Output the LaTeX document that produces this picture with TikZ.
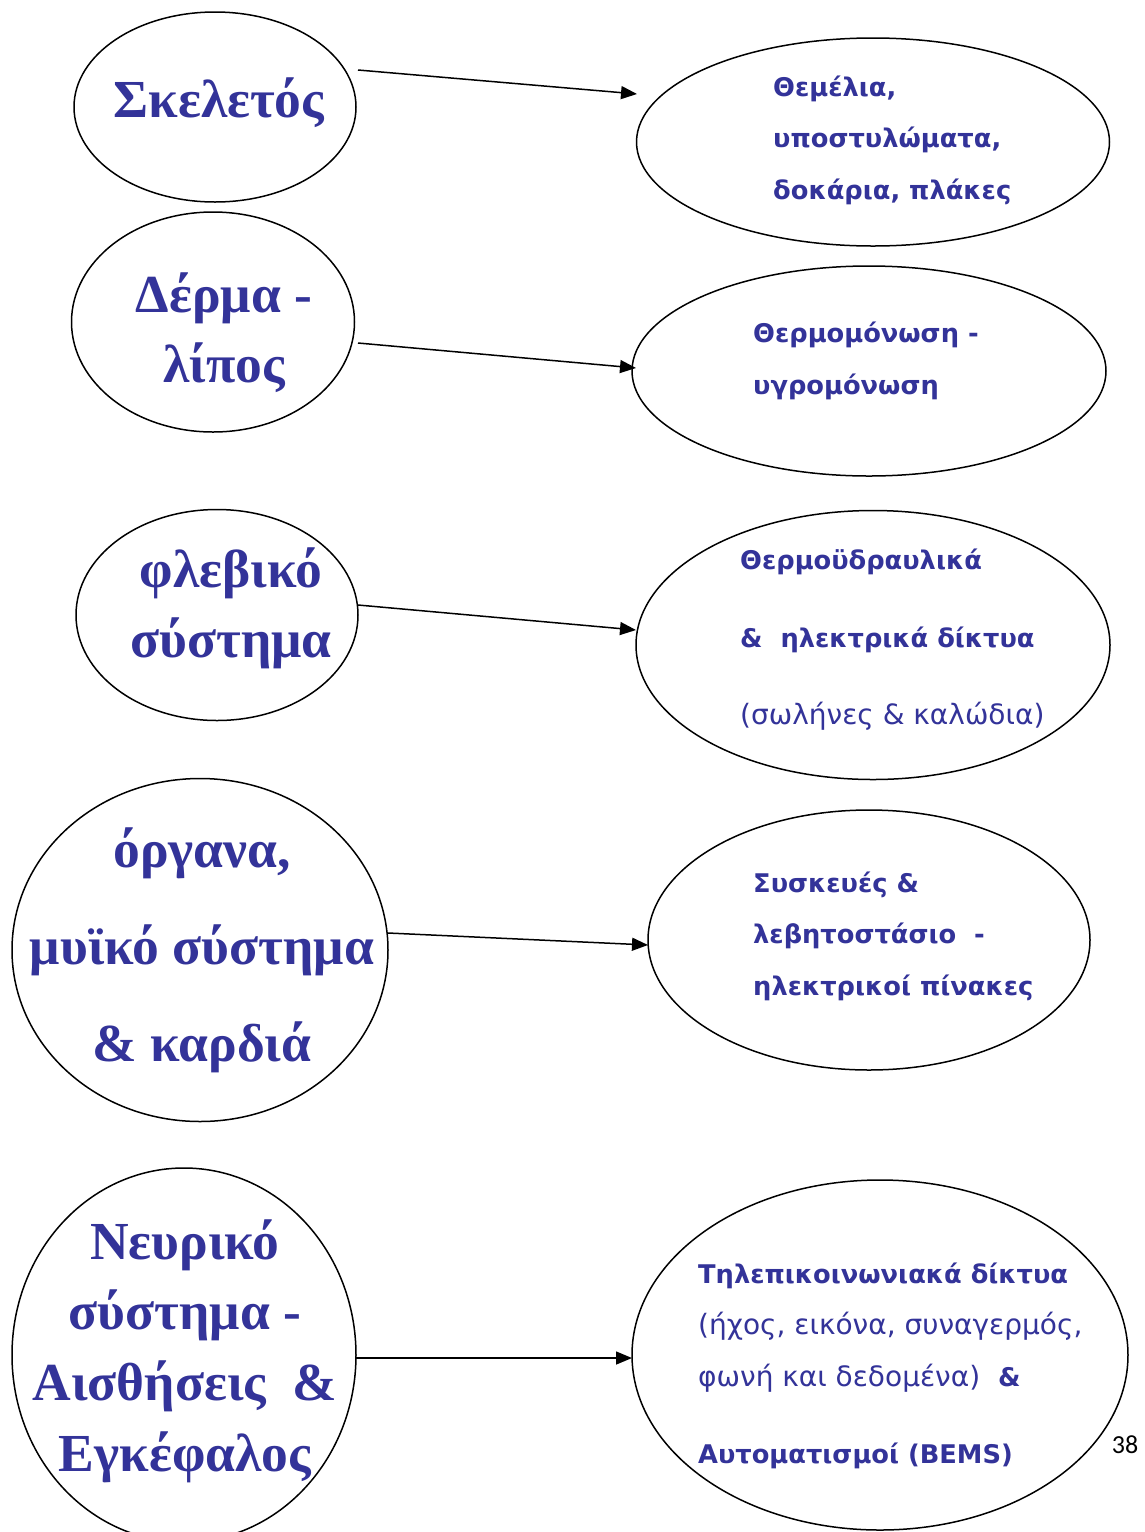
\documentclass[tikz,border=0pt]{standalone}
\usepackage{fontspec}
\setmainfont{Liberation Serif}
\newfontfamily\rfont{DejaVu Sans}
\newfontfamily\pgfont{Carlito}
\usetikzlibrary{arrows.meta,shapes.geometric}
\definecolor{tblue}{RGB}{51,51,153}
\newcommand\mdtxt[1]{{\mdseries\fontsize{28}{51.5}\selectfont #1}}
\tikzset{
  oval/.style={ellipse, draw=black, line width=1.5pt, inner sep=0pt},
  lefttext/.style={text=tblue, align=center, inner sep=0pt, font=\bfseries\fontsize{53.5}{70}\selectfont},
  righttext/.style={text=tblue, align=left, anchor=west, inner sep=0pt, font=\rfont\bfseries\fontsize{25.7}{51.5}\selectfont},
  conn/.style={line width=1.5pt, -{Triangle[length=16pt,width=13pt]}},
}
\begin{document}
\begin{tikzpicture}[x=1pt,y=-1pt]
\path[use as bounding box] (0,0) rectangle (1144,1532);
\clip (0,0) rectangle (1144,1532);
\fill[white] (0,0) rectangle (1144,1532);
% left ovals
\node[oval, minimum width=282pt, minimum height=190pt] (l1) at (215,107) {};
\node[oval, minimum width=283pt, minimum height=220pt] (l2) at (213,322) {};
\node[oval, minimum width=282pt, minimum height=211pt] (l3) at (217,615) {};
\node[oval, minimum width=376pt, minimum height=343pt] (l4) at (200,950) {};
\node[oval, minimum width=344pt, minimum height=374pt] (l5) at (184,1355) {};
% right ovals
\node[oval, minimum width=473pt, minimum height=208pt] (r1) at (873,142) {};
\node[oval, minimum width=474pt, minimum height=210pt] (r2) at (869,371) {};
\node[oval, minimum width=474pt, minimum height=269pt] (r3) at (873,645) {};
\node[oval, minimum width=442pt, minimum height=260pt] (r4) at (869,940) {};
\node[oval, minimum width=496pt, minimum height=350pt] (r5) at (880,1355) {};
% left texts
\node[lefttext] (t1) at (219,103) {Σκελετός};
\node[lefttext] (t2) at (224,333) {Δέρμα -\\λίπος};
\node[lefttext] (t3) at (231,608) {φλεβικό\\σύστημα};
\node[lefttext, font=\bfseries\fontsize{53.5}{97}\selectfont] (t4) at (202,950) {όργανα,\\μυϊκό σύστημα\\\& καρδιά};
\node[lefttext, font=\bfseries\fontsize{53.5}{70.7}\selectfont] (t5) at (185,1351) {Νευρικό\\σύστημα -\\Αισθήσεις~~\&\\Εγκέφαλος};
% right texts
\node[righttext] (s1) at (773,140) {Θεμέλια,\\υποστυλώματα,\\δοκάρια, πλάκες};
\node[righttext] (s2) at (753,361) {Θερμομόνωση -\\υγρομόνωση};
\node[righttext, font=\rfont\bfseries\fontsize{25.7}{77.5}\selectfont] (s3) at (740,640) {Θερμοϋδραυλικά\\\&~~ηλεκτρικά δίκτυα\\\mdtxt{(σωλήνες \& καλώδια)}};
\node[righttext] (s4) at (753,936) {Συσκευές \&\\λεβητοστάσιο~~-\\ηλεκτρικοί πίνακες};
\node[righttext] (s5) at (698,1366) {Τηλεπικοινωνιακά δίκτυα\\\mdtxt{(ήχος, εικόνα, συναγερμός,}\\\mdtxt{φωνή και δεδομένα)}~~\&\\[26pt]Αυτοματισμοί (BEMS)};
\node[font=\pgfont\fontsize{26}{30}\selectfont, inner sep=0pt] (pg) at (1125,1445) {38};
% connector ends
\coordinate (a1s) at (358,70);  \coordinate (a1e) at (637,94);
\coordinate (a2s) at (358,343); \coordinate (a2e) at (636,368);
\coordinate (a3s) at (358,605); \coordinate (a3e) at (636,630);
\coordinate (a4s) at (388,933); \coordinate (a4e) at (648,945);
\coordinate (a5s) at (356,1358); \coordinate (a5e) at (632,1358);
\draw[conn] (a1s) -- (a1e);
\draw[conn] (a2s) -- (a2e);
\draw[conn] (a3s) -- (a3e);
\draw[conn] (a4s) -- (a4e);
\draw[conn] (a5s) -- (a5e);
\end{tikzpicture}
\end{document}
